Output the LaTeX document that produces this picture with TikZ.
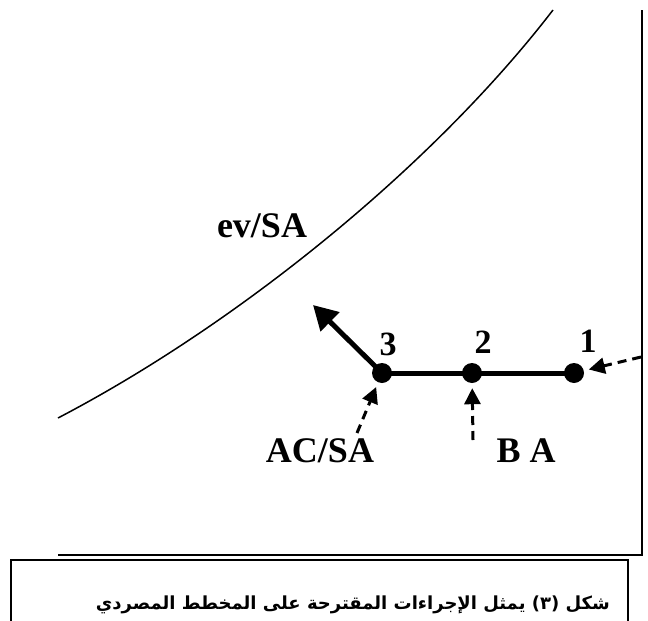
\documentclass[tikz,border=0pt]{standalone}
\usepackage{fontspec}
\usepackage{tikz}
\usetikzlibrary{arrows.meta, positioning, calc}
\setmainfont{Liberation Serif}
\newfontfamily\arabicfont[Script=Arabic]{DejaVu Sans}
\TeXXeTstate=1
\tikzset{
	ptdot/.style={circle, fill=black, minimum size=20pt, inner sep=0pt},
	ptnum/.style={anchor=base, font=\fontsize{34}{34}\selectfont\bfseries, inner sep=0pt},
	curvelabel/.style={anchor=base, font=\fontsize{36}{36}\selectfont\bfseries, inner sep=0pt},
	pathline/.style={line width=5pt},
	movearrow/.style={line width=5pt, -{Triangle[length=24pt,width=26pt]}},
	hintarrow/.style={line width=3pt, dash pattern=on 9pt off 6pt, -{Triangle[length=16pt,width=16pt]}, shorten >=5pt},
	axisline/.style={line width=2pt},
}

\begin{document}
\begin{tikzpicture}[x=1pt, y=-1pt]
	\useasboundingbox (0,0) rectangle (648,621);
	% axes
	\draw[axisline] (642,10) -- (642,555) -- (58,555);
	% curve
	\draw[line width=1.5pt] (58,418) .. controls (238,324) and (433,166) .. (553,10);
	\node[curvelabel] (evsa) at (262,237) {ev/SA};
	% points on the path
	\node[ptdot] (p1) at (574,373) {};
	\node[ptdot] (p2) at (472,373) {};
	\node[ptdot] (p3) at (382,373) {};
	\draw[pathline] (p3.center) -- (p2.center) -- (p1.center);
	\coordinate (tip) at (313,305);
	\draw[movearrow] (p3.center) -- (tip);
	\node[ptnum] (n1) at (588,352) {1};
	\node[ptnum] (n2) at (483,353) {2};
	\node[ptnum] (n3) at (388,355) {3};
	% hints
	\node[curvelabel] (acsa) at (320,462) {AC/SA};
	\node[curvelabel] (ba) at (526,462) {B A};
	\coordinate (h1) at (641,357);
	\coordinate (h3) at (357,433);
	\coordinate (h2) at (473,440);
	\draw[hintarrow] (h1) -- (p1);
	\draw[hintarrow] (h3) -- (p3);
	\draw[hintarrow] (h2) -- (p2);
	% caption
	\draw[line width=1.5pt] (11,622) -- (11,560) -- (628,560) -- (628,622);
	\node[anchor=east, inner sep=0pt, font=\arabicfont\bfseries\fontsize{18}{18}\selectfont] (cap) at (610,605)
		{\beginR شكل (٣) يمثل الإجراءات المقترحة على المخطط المصردي\endR};
\end{tikzpicture}
\end{document}
